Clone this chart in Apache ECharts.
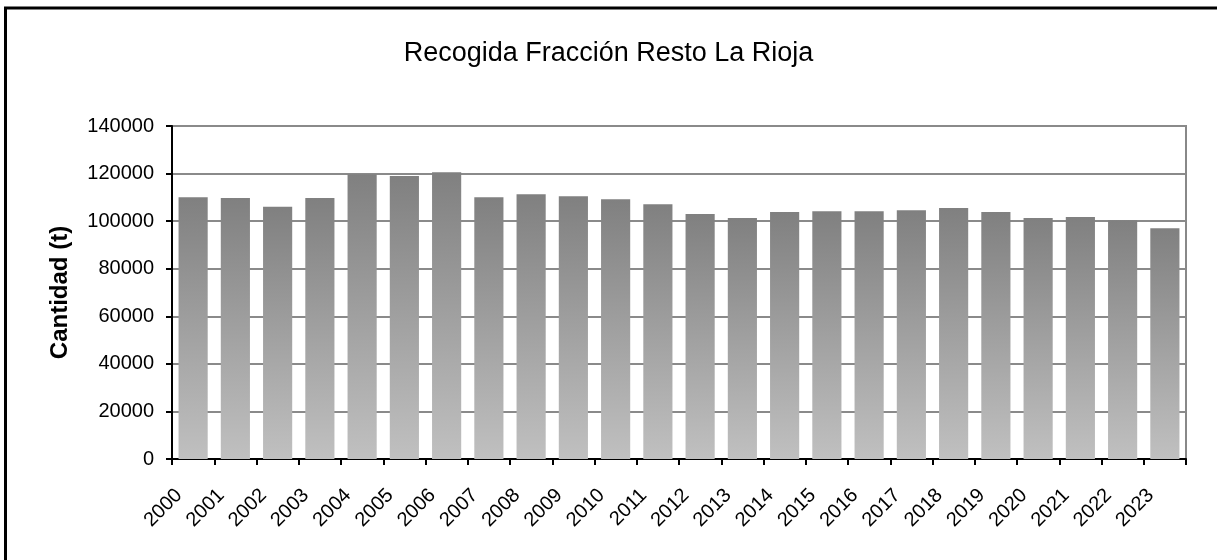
<!DOCTYPE html>
<html>
<head>
<meta charset="utf-8">
<script src="https://cdn.jsdelivr.net/npm/echarts@6/dist/echarts.min.js"></script>
<style>
html,body{margin:0;padding:0;background:#fff;}
#chart{width:1217px;height:560px;}
</style>
</head>
<body>
<div id="chart"></div>
<script>
const years = ['2000','2001','2002','2003','2004','2005','2006','2007','2008','2009','2010','2011','2012','2013','2014','2015','2016','2017','2018','2019','2020','2021','2022','2023'];
const cantidad = [110000,109700,106000,109700,119700,119000,120600,110000,111300,110500,109200,107100,103000,101300,103800,104200,104200,104600,105500,103800,101300,101700,100400,97000];
const titleText = 'Recogida Fracción Resto La Rioja';
const yName = 'Cantidad (t)';

const FONT = '"Liberation Sans", Arial, Helvetica, sans-serif';
const chart = echarts.init(document.getElementById('chart'));
chart.setOption({
  animation: false,
  backgroundColor: '#ffffff',
  title: {
    text: titleText,
    left: 'center',
    top: 35,
    textStyle: { fontFamily: FONT, fontSize: 27, fontWeight: 'normal', color: '#000' }
  },
  graphic: [
    { type: 'line', shape: { x1: 5.5, y1: 7, x2: 5.5, y2: 560 }, style: { stroke: '#000', lineWidth: 3 } },
    { type: 'line', shape: { x1: 4, y1: 8, x2: 1217, y2: 8 }, style: { stroke: '#000', lineWidth: 3 } }
  ],
  grid: {
    left: 172, right: 31, top: 126, bottom: 101,
    show: true, borderColor: '#888', borderWidth: 2, backgroundColor: 'transparent'
  },
  xAxis: {
    type: 'category',
    data: years,
    boundaryGap: true,
    axisLine: { lineStyle: { color: '#000', width: 2 } },
    axisTick: { show: true, length: 6, lineStyle: { color: '#000', width: 2 }, alignWithLabel: false },
    axisLabel: {
      rotate: 45, interval: 0, margin: 19,
      formatter: function (v) { return '{a|' + v + '}'; },
      rich: { a: { fontFamily: FONT, fontSize: 20, color: '#000', padding: [0, 20, 0, 0] } },
      fontFamily: FONT, fontSize: 20, color: '#000'
    },
    splitLine: { show: false }
  },
  yAxis: {
    type: 'value',
    min: 0, max: 140000, interval: 20000,
    name: yName,
    nameLocation: 'middle',
    nameRotate: 90,
    nameGap: 100,
    nameTextStyle: { fontFamily: FONT, fontSize: 24, fontWeight: 'bold', color: '#000' },
    axisLine: { show: true, lineStyle: { color: '#000', width: 2 } },
    axisTick: { show: true, length: 6, lineStyle: { color: '#000', width: 2 } },
    axisLabel: { margin: 18, fontFamily: FONT, fontSize: 20, color: '#000', formatter: function (v) { return String(v); } },
    splitLine: { show: true, lineStyle: { color: '#8a8a8a', width: 2 } }
  },
  series: [{
    type: 'bar',
    data: cantidad,
    barCategoryGap: '31%',
    itemStyle: {
      color: new echarts.graphic.LinearGradient(0, 0, 0, 1, [
        { offset: 0, color: '#808080' },
        { offset: 1, color: '#c0c0c0' }
      ])
    }
  }]
});
</script>
</body>
</html>
